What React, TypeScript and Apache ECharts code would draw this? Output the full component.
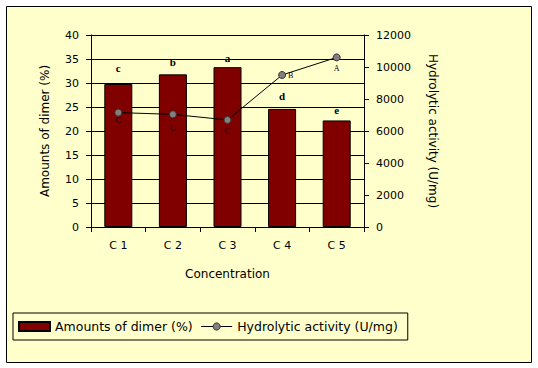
import React, { useEffect, useRef } from "react";
import * as echarts from "echarts";

const categories = ["C 1", "C 2", "C 3", "C 4", "C 5"];
const dimerValues = [29.8, 31.8, 33.3, 24.6, 22.2];
const dimerLetters = ["c", "b", "a", "d", "e"];
const activityValues = [7150, 7040, 6690, 9500, 10600];
const activityLetters = ["C", "C", "C", "B", "A"];
const leftTicks = { min: 0, max: 40, interval: 5 };
const rightTicks = { min: 0, max: 12000, interval: 2000 };

const FONT = "DejaVu Sans";
const BG = "#FFFFCC";
const DIMER = "Amounts of dimer (%)";
const ACT = "Hydrolytic activity (U/mg)";

export default function App() {
  const ref = useRef<HTMLDivElement>(null);
  useEffect(() => {
    if (!ref.current) return;
    const chart = echarts.init(ref.current, undefined, { renderer: "svg" });
    const actPos = ["bottom", "bottom", "bottom", "right", "bottom"];
    const actDist = [0, 6, 4, 2, 3];
    chart.setOption({
      animation: false,
      backgroundColor: "#ffffff",
      textStyle: { fontFamily: FONT, color: "#000" },
      graphic: [
        {
          type: "rect",
          z: -10,
          shape: { x: 6.5, y: 6.5, width: 525, height: 356 },
          style: { fill: BG, stroke: "#000", lineWidth: 1 },
        },
      ],
      grid: { left: 91, right: 174, top: 35, bottom: 141, containLabel: false },
      legend: {
        left: 13,
        top: 313,
        orient: "horizontal",
        backgroundColor: BG,
        borderColor: "#000",
        borderWidth: 1,
        borderRadius: 0,
        padding: [7, 10, 7, 5],
        itemGap: 8,
        itemWidth: 31,
        itemHeight: 9,
        textStyle: { fontFamily: FONT, fontSize: 12.5, color: "#000" },
        data: [
          { name: DIMER, icon: "rect" },
          {
            name: ACT,
            lineStyle: { width: 1, color: "#000" },
            itemStyle: { color: "#808080", borderColor: "#333", borderWidth: 1 },
          },
        ],
      },
      xAxis: {
        type: "category",
        data: categories,
        name: "Concentration",
        nameLocation: "middle",
        nameGap: 41,
        nameTextStyle: { fontFamily: FONT, fontSize: 12, color: "#000" },
        axisLine: { lineStyle: { color: "#000", width: 1 } },
        axisTick: { show: true, length: 5, lineStyle: { color: "#000" } },
        axisLabel: { fontFamily: FONT, fontSize: 11, color: "#000", margin: 13 },
        splitLine: { show: false },
      },
      yAxis: [
        {
          type: "value",
          position: "left",
          min: leftTicks.min,
          max: leftTicks.max,
          interval: leftTicks.interval,
          name: DIMER,
          nameLocation: "middle",
          nameRotate: 90,
          nameGap: 40,
          nameTextStyle: { fontFamily: FONT, fontSize: 12, color: "#000" },
          axisLine: { show: true, lineStyle: { color: "#000" } },
          axisTick: { show: true, length: 5, lineStyle: { color: "#000" } },
          axisLabel: { fontFamily: FONT, fontSize: 11, color: "#000", margin: 12 },
          splitLine: { show: true, lineStyle: { color: "#000", width: 1 } },
        },
        {
          type: "value",
          position: "right",
          min: rightTicks.min,
          max: rightTicks.max,
          interval: rightTicks.interval,
          name: ACT,
          nameLocation: "middle",
          nameRotate: -90,
          nameGap: 63,
          nameTextStyle: { fontFamily: FONT, fontSize: 12, color: "#000" },
          axisLine: { show: true, lineStyle: { color: "#000" } },
          axisTick: { show: true, length: 5, lineStyle: { color: "#000" } },
          axisLabel: {
            fontFamily: FONT,
            fontSize: 11,
            color: "#000",
            margin: 12,
            formatter: (v: number) => String(v),
          },
          splitLine: { show: false },
        },
      ],
      series: [
        {
          name: DIMER,
          type: "bar",
          yAxisIndex: 0,
          barWidth: 28,
          itemStyle: { color: "#800000", borderColor: "#000", borderWidth: 1 },
          data: dimerValues.map((v, i) => ({
            value: v,
            label: {
              show: true,
              position: "top",
              distance: [10, 7, 4, 7, 5][i],
              formatter: dimerLetters[i],
              fontFamily: "Liberation Serif",
              fontWeight: "bold",
              fontSize: 11,
              color: "#000",
            },
          })),
        },
        {
          name: ACT,
          type: "line",
          yAxisIndex: 1,
          symbol: "circle",
          symbolSize: 7,
          lineStyle: { color: "#000", width: 1 },
          itemStyle: { color: "#808080", borderColor: "#333", borderWidth: 1 },
          data: activityValues.map((v, i) => ({
            value: v,
            label: {
              show: true,
              position: actPos[i],
              distance: actDist[i],
              formatter: activityLetters[i],
              fontFamily: "Liberation Serif",
              fontSize: 8,
              color: "#000",
            },
          })),
        },
      ],
    });
    return () => chart.dispose();
  }, []);
  return (
    <div
      ref={ref}
      style={{ position: "fixed", left: 0, top: 0, width: 538, height: 368 }}
    />
  );
}
